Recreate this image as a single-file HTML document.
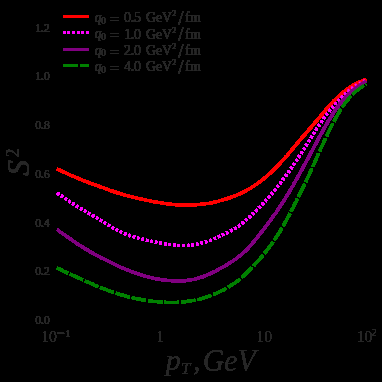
<!DOCTYPE html>
<html><head><meta charset="utf-8"><title>plot</title>
<style>html,body{margin:0;padding:0;background:#000;width:382px;height:382px;overflow:hidden;font-family:"Liberation Serif",serif}</style>
</head><body>
<svg width="382" height="382" viewBox="0 0 382 382" style="position:absolute;left:0;top:0">
<rect width="382" height="382" fill="#000"/>
<defs><filter id="hard" x="0" y="0" width="382" height="382" filterUnits="userSpaceOnUse" color-interpolation-filters="sRGB"><feComponentTransfer><feFuncA type="discrete" tableValues="0 1 1 1 1 1 1 1 1 1 1 1 1 1 1 1 1 1 1 1 1 1 1 1 1 1 1 1 1 1 1 1 1 1 1 1 1 1 1 1 1 1 1 1 1 1 1 1 1 1 1 1 1 1 1 1 1 1 1 1 1 1 1 1"/></feComponentTransfer></filter></defs>
<defs><filter id="hard2" x="0" y="0" width="382" height="382" filterUnits="userSpaceOnUse" color-interpolation-filters="sRGB"><feComponentTransfer><feFuncA type="discrete" tableValues="0 0 0 0 0 0 0 0 1 1 1 1 1 1 1 1 1 1 1 1"/></feComponentTransfer></filter></defs>
<defs><filter id="hard3" x="0" y="0" width="382" height="382" filterUnits="userSpaceOnUse" color-interpolation-filters="sRGB"><feComponentTransfer><feFuncA type="discrete" tableValues="0 0 0 0 1 1 1 1 1 1 1 1 1 1 1 1 1 1 1 1"/></feComponentTransfer></filter></defs>
<g filter="url(#hard)">
<g fill="none" stroke-width="2.8" stroke-linejoin="round">
<path d="M57.2,168.93 L58.8,169.66 L60.3,170.40 L61.9,171.13 L63.4,171.86 L65.0,172.59 L66.5,173.31 L68.1,174.03 L69.6,174.73 L71.2,175.44 L72.7,176.13 L74.3,176.81 L75.8,177.48 L77.4,178.14 L78.9,178.79 L80.5,179.43 L82.0,180.05 L83.6,180.66 L85.1,181.25 L86.7,181.84 L88.2,182.42 L89.8,182.99 L91.3,183.56 L92.9,184.12 L94.4,184.68 L96.0,185.24 L97.5,185.80 L99.1,186.35 L100.6,186.91 L102.2,187.48 L103.8,188.04 L105.3,188.60 L106.9,189.16 L108.4,189.72 L110.0,190.27 L111.5,190.82 L113.1,191.36 L114.6,191.89 L116.2,192.41 L117.7,192.92 L119.3,193.41 L120.8,193.89 L122.4,194.36 L123.9,194.81 L125.5,195.24 L127.0,195.67 L128.6,196.08 L130.1,196.48 L131.7,196.88 L133.2,197.26 L134.8,197.63 L136.3,197.99 L137.9,198.35 L139.4,198.70 L141.0,199.04 L142.5,199.38 L144.1,199.71 L145.7,200.04 L147.2,200.36 L148.8,200.67 L150.3,200.98 L151.9,201.28 L153.4,201.58 L155.0,201.86 L156.5,202.14 L158.1,202.42 L159.6,202.68 L161.2,202.94 L162.7,203.19 L164.3,203.43 L165.8,203.66 L167.4,203.87 L168.9,204.07 L170.5,204.25 L172.0,204.42 L173.6,204.56 L175.1,204.69 L176.7,204.79 L178.2,204.88 L179.8,204.96 L181.3,205.01 L182.9,205.05 L184.4,205.07 L186.0,205.07 L187.5,205.06 L189.1,205.03 L190.7,204.99 L192.2,204.93 L193.8,204.85 L195.3,204.76 L196.9,204.65 L198.4,204.52 L200.0,204.38 L201.5,204.21 L203.1,204.03 L204.6,203.82 L206.2,203.60 L207.7,203.35 L209.3,203.09 L210.8,202.80 L212.4,202.50 L213.9,202.18 L215.5,201.83 L217.0,201.47 L218.6,201.09 L220.1,200.69 L221.7,200.27 L223.2,199.83 L224.8,199.37 L226.3,198.89 L227.9,198.38 L229.4,197.85 L231.0,197.30 L232.5,196.73 L234.1,196.13 L235.7,195.50 L237.2,194.85 L238.8,194.17 L240.3,193.47 L241.9,192.73 L243.4,191.97 L245.0,191.17 L246.5,190.34 L248.1,189.48 L249.6,188.59 L251.2,187.66 L252.7,186.69 L254.3,185.69 L255.8,184.65 L257.4,183.58 L258.9,182.46 L260.5,181.30 L262.0,180.10 L263.6,178.86 L265.1,177.58 L266.7,176.25 L268.2,174.89 L269.8,173.49 L271.3,172.05 L272.9,170.57 L274.4,169.05 L276.0,167.49 L277.5,165.89 L279.1,164.25 L280.7,162.58 L282.2,160.87 L283.8,159.13 L285.3,157.36 L286.9,155.56 L288.4,153.75 L290.0,151.93 L291.5,150.09 L293.1,148.24 L294.6,146.40 L296.2,144.55 L297.7,142.71 L299.3,140.89 L300.8,139.07 L302.4,137.27 L303.9,135.48 L305.5,133.70 L307.0,131.92 L308.6,130.14 L310.1,128.35 L311.7,126.55 L313.2,124.75 L314.8,122.93 L316.3,121.11 L317.9,119.27 L319.4,117.42 L321.0,115.55 L322.6,113.69 L324.1,111.82 L325.7,109.97 L327.2,108.15 L328.8,106.37 L330.3,104.64 L331.9,102.97 L333.4,101.35 L335.0,99.79 L336.5,98.28 L338.1,96.82 L339.6,95.40 L341.2,94.04 L342.7,92.72 L344.3,91.46 L345.8,90.24 L347.4,89.09 L348.9,87.99 L350.5,86.95 L352.0,85.98 L353.6,85.06 L355.1,84.20 L356.7,83.39 L358.2,82.63 L359.8,81.92 L361.3,81.24 L362.9,80.61 L364.4,79.99 L366.0,79.38" stroke="#ff0000"/>
<path d="M57.2,193.23 L58.8,194.27 L60.3,195.32 L61.9,196.36 L63.4,197.41 L65.0,198.44 L66.5,199.48 L68.1,200.50 L69.6,201.52 L71.2,202.54 L72.7,203.54 L74.3,204.54 L75.8,205.52 L77.4,206.49 L78.9,207.45 L80.5,208.40 L82.0,209.33 L83.6,210.26 L85.1,211.17 L86.7,212.08 L88.2,212.98 L89.8,213.88 L91.3,214.78 L92.9,215.68 L94.4,216.58 L96.0,217.50 L97.5,218.41 L99.1,219.34 L100.6,220.29 L102.2,221.24 L103.8,222.20 L105.3,223.16 L106.9,224.13 L108.4,225.08 L110.0,226.03 L111.5,226.96 L113.1,227.87 L114.6,228.76 L116.2,229.62 L117.7,230.45 L119.3,231.24 L120.8,231.99 L122.4,232.70 L123.9,233.36 L125.5,233.99 L127.0,234.59 L128.6,235.15 L130.1,235.69 L131.7,236.20 L133.2,236.68 L134.8,237.14 L136.3,237.59 L137.9,238.01 L139.4,238.42 L141.0,238.82 L142.5,239.21 L144.1,239.60 L145.7,239.97 L147.2,240.33 L148.8,240.68 L150.3,241.02 L151.9,241.35 L153.4,241.67 L155.0,241.99 L156.5,242.29 L158.1,242.59 L159.6,242.88 L161.2,243.16 L162.7,243.43 L164.3,243.69 L165.8,243.94 L167.4,244.18 L168.9,244.40 L170.5,244.60 L172.0,244.78 L173.6,244.95 L175.1,245.09 L176.7,245.21 L178.2,245.30 L179.8,245.37 L181.3,245.41 L182.9,245.43 L184.4,245.41 L186.0,245.36 L187.5,245.28 L189.1,245.17 L190.7,245.03 L192.2,244.85 L193.8,244.63 L195.3,244.39 L196.9,244.10 L198.4,243.78 L200.0,243.42 L201.5,243.02 L203.1,242.58 L204.6,242.11 L206.2,241.61 L207.7,241.08 L209.3,240.52 L210.8,239.93 L212.4,239.32 L213.9,238.69 L215.5,238.05 L217.0,237.38 L218.6,236.71 L220.1,236.02 L221.7,235.32 L223.2,234.60 L224.8,233.87 L226.3,233.12 L227.9,232.34 L229.4,231.54 L231.0,230.70 L232.5,229.82 L234.1,228.91 L235.7,227.95 L237.2,226.94 L238.8,225.88 L240.3,224.77 L241.9,223.59 L243.4,222.37 L245.0,221.09 L246.5,219.76 L248.1,218.39 L249.6,216.97 L251.2,215.52 L252.7,214.04 L254.3,212.52 L255.8,210.98 L257.4,209.41 L258.9,207.82 L260.5,206.21 L262.0,204.59 L263.6,202.94 L265.1,201.27 L266.7,199.57 L268.2,197.84 L269.8,196.08 L271.3,194.27 L272.9,192.43 L274.4,190.55 L276.0,188.63 L277.5,186.68 L279.1,184.70 L280.7,182.69 L282.2,180.65 L283.8,178.58 L285.3,176.48 L286.9,174.35 L288.4,172.20 L290.0,170.02 L291.5,167.81 L293.1,165.57 L294.6,163.31 L296.2,161.01 L297.7,158.68 L299.3,156.31 L300.8,153.90 L302.4,151.47 L303.9,149.00 L305.5,146.53 L307.0,144.04 L308.6,141.56 L310.1,139.09 L311.7,136.64 L313.2,134.21 L314.8,131.80 L316.3,129.42 L317.9,127.07 L319.4,124.74 L321.0,122.45 L322.6,120.19 L324.1,117.97 L325.7,115.80 L327.2,113.67 L328.8,111.60 L330.3,109.58 L331.9,107.63 L333.4,105.73 L335.0,103.90 L336.5,102.12 L338.1,100.40 L339.6,98.73 L341.2,97.11 L342.7,95.55 L344.3,94.05 L345.8,92.61 L347.4,91.24 L348.9,89.94 L350.5,88.73 L352.0,87.59 L353.6,86.52 L355.1,85.52 L356.7,84.58 L358.2,83.70 L359.8,82.87 L361.3,82.08 L362.9,81.33 L364.4,80.59 L366.0,79.87" stroke="#ff00ff" stroke-dasharray="2.1 2.5"/>
<path d="M57.2,229.54 L58.8,230.67 L60.3,231.80 L61.9,232.93 L63.4,234.05 L65.0,235.18 L66.5,236.29 L68.1,237.40 L69.6,238.49 L71.2,239.58 L72.7,240.66 L74.3,241.72 L75.8,242.77 L77.4,243.81 L78.9,244.83 L80.5,245.83 L82.0,246.81 L83.6,247.78 L85.1,248.72 L86.7,249.65 L88.2,250.56 L89.8,251.46 L91.3,252.34 L92.9,253.21 L94.4,254.06 L96.0,254.91 L97.5,255.74 L99.1,256.56 L100.6,257.38 L102.2,258.19 L103.8,258.99 L105.3,259.78 L106.9,260.56 L108.4,261.34 L110.0,262.10 L111.5,262.86 L113.1,263.60 L114.6,264.34 L116.2,265.06 L117.7,265.78 L119.3,266.48 L120.8,267.17 L122.4,267.86 L123.9,268.52 L125.5,269.18 L127.0,269.82 L128.6,270.45 L130.1,271.06 L131.7,271.66 L133.2,272.24 L134.8,272.81 L136.3,273.36 L137.9,273.89 L139.4,274.40 L141.0,274.90 L142.5,275.37 L144.1,275.83 L145.7,276.26 L147.2,276.68 L148.8,277.08 L150.3,277.46 L151.9,277.82 L153.4,278.17 L155.0,278.49 L156.5,278.80 L158.1,279.09 L159.6,279.36 L161.2,279.61 L162.7,279.84 L164.3,280.06 L165.8,280.25 L167.4,280.42 L168.9,280.58 L170.5,280.71 L172.0,280.81 L173.6,280.90 L175.1,280.96 L176.7,280.99 L178.2,281.00 L179.8,280.98 L181.3,280.93 L182.9,280.85 L184.4,280.74 L186.0,280.60 L187.5,280.43 L189.1,280.22 L190.7,279.98 L192.2,279.69 L193.8,279.38 L195.3,279.02 L196.9,278.62 L198.4,278.19 L200.0,277.71 L201.5,277.18 L203.1,276.62 L204.6,276.02 L206.2,275.39 L207.7,274.72 L209.3,274.02 L210.8,273.29 L212.4,272.54 L213.9,271.77 L215.5,270.97 L217.0,270.16 L218.6,269.33 L220.1,268.50 L221.7,267.65 L223.2,266.78 L224.8,265.90 L226.3,265.00 L227.9,264.08 L229.4,263.13 L231.0,262.15 L232.5,261.13 L234.1,260.08 L235.7,258.99 L237.2,257.86 L238.8,256.68 L240.3,255.45 L241.9,254.17 L243.4,252.82 L245.0,251.40 L246.5,249.89 L248.1,248.29 L249.6,246.60 L251.2,244.83 L252.7,243.01 L254.3,241.13 L255.8,239.22 L257.4,237.29 L258.9,235.34 L260.5,233.36 L262.0,231.35 L263.6,229.32 L265.1,227.28 L266.7,225.23 L268.2,223.17 L269.8,221.08 L271.3,218.96 L272.9,216.82 L274.4,214.65 L276.0,212.45 L277.5,210.21 L279.1,207.92 L280.7,205.58 L282.2,203.20 L283.8,200.77 L285.3,198.30 L286.9,195.80 L288.4,193.26 L290.0,190.67 L291.5,188.04 L293.1,185.37 L294.6,182.66 L296.2,179.91 L297.7,177.12 L299.3,174.31 L300.8,171.47 L302.4,168.63 L303.9,165.77 L305.5,162.92 L307.0,160.07 L308.6,157.21 L310.1,154.35 L311.7,151.47 L313.2,148.58 L314.8,145.69 L316.3,142.78 L317.9,139.88 L319.4,136.98 L321.0,134.11 L322.6,131.27 L324.1,128.49 L325.7,125.76 L327.2,123.09 L328.8,120.47 L330.3,117.91 L331.9,115.41 L333.4,112.97 L335.0,110.61 L336.5,108.33 L338.1,106.13 L339.6,104.03 L341.2,102.04 L342.7,100.14 L344.3,98.34 L345.8,96.63 L347.4,95.01 L348.9,93.48 L350.5,92.02 L352.0,90.64 L353.6,89.33 L355.1,88.10 L356.7,86.92 L358.2,85.81 L359.8,84.76 L361.3,83.77 L362.9,82.81 L364.4,81.89 L366.0,80.98" stroke="#800080"/>
<path d="M57.2,268.11 L58.8,268.83 L60.3,269.55 L61.9,270.28 L63.4,271.00 L65.0,271.72 L66.5,272.44 L68.1,273.16 L69.6,273.88 L71.2,274.59 L72.7,275.31 L74.3,276.02 L75.8,276.73 L77.4,277.43 L78.9,278.14 L80.5,278.84 L82.0,279.54 L83.6,280.23 L85.1,280.92 L86.7,281.61 L88.2,282.30 L89.8,282.98 L91.3,283.65 L92.9,284.32 L94.4,284.98 L96.0,285.63 L97.5,286.28 L99.1,286.92 L100.6,287.55 L102.2,288.17 L103.8,288.78 L105.3,289.39 L106.9,289.98 L108.4,290.56 L110.0,291.12 L111.5,291.68 L113.1,292.22 L114.6,292.75 L116.2,293.27 L117.7,293.77 L119.3,294.25 L120.8,294.72 L122.4,295.17 L123.9,295.61 L125.5,296.03 L127.0,296.44 L128.6,296.84 L130.1,297.22 L131.7,297.58 L133.2,297.93 L134.8,298.27 L136.3,298.60 L137.9,298.91 L139.4,299.21 L141.0,299.50 L142.5,299.78 L144.1,300.05 L145.7,300.30 L147.2,300.54 L148.8,300.77 L150.3,300.98 L151.9,301.18 L153.4,301.37 L155.0,301.54 L156.5,301.70 L158.1,301.84 L159.6,301.97 L161.2,302.08 L162.7,302.17 L164.3,302.25 L165.8,302.32 L167.4,302.37 L168.9,302.40 L170.5,302.41 L172.0,302.41 L173.6,302.39 L175.1,302.35 L176.7,302.30 L178.2,302.23 L179.8,302.14 L181.3,302.03 L182.9,301.90 L184.4,301.74 L186.0,301.57 L187.5,301.38 L189.1,301.16 L190.7,300.93 L192.2,300.67 L193.8,300.38 L195.3,300.07 L196.9,299.74 L198.4,299.38 L200.0,299.00 L201.5,298.59 L203.1,298.16 L204.6,297.70 L206.2,297.21 L207.7,296.70 L209.3,296.15 L210.8,295.59 L212.4,294.99 L213.9,294.36 L215.5,293.71 L217.0,293.03 L218.6,292.32 L220.1,291.58 L221.7,290.81 L223.2,290.01 L224.8,289.18 L226.3,288.31 L227.9,287.41 L229.4,286.47 L231.0,285.48 L232.5,284.46 L234.1,283.39 L235.7,282.28 L237.2,281.12 L238.8,279.91 L240.3,278.64 L241.9,277.33 L243.4,275.97 L245.0,274.55 L246.5,273.09 L248.1,271.59 L249.6,270.04 L251.2,268.44 L252.7,266.81 L254.3,265.14 L255.8,263.44 L257.4,261.69 L258.9,259.92 L260.5,258.11 L262.0,256.27 L263.6,254.40 L265.1,252.48 L266.7,250.52 L268.2,248.51 L269.8,246.45 L271.3,244.33 L272.9,242.15 L274.4,239.90 L276.0,237.58 L277.5,235.19 L279.1,232.73 L280.7,230.20 L282.2,227.59 L283.8,224.91 L285.3,222.15 L286.9,219.33 L288.4,216.44 L290.0,213.49 L291.5,210.48 L293.1,207.45 L294.6,204.38 L296.2,201.29 L297.7,198.18 L299.3,195.05 L300.8,191.91 L302.4,188.74 L303.9,185.54 L305.5,182.32 L307.0,179.05 L308.6,175.74 L310.1,172.37 L311.7,168.97 L313.2,165.54 L314.8,162.08 L316.3,158.61 L317.9,155.13 L319.4,151.66 L321.0,148.21 L322.6,144.78 L324.1,141.39 L325.7,138.05 L327.2,134.77 L328.8,131.55 L330.3,128.40 L331.9,125.33 L333.4,122.34 L335.0,119.44 L336.5,116.64 L338.1,113.94 L339.6,111.35 L341.2,108.87 L342.7,106.51 L344.3,104.26 L345.8,102.13 L347.4,100.13 L348.9,98.25 L350.5,96.49 L352.0,94.85 L353.6,93.32 L355.1,91.90 L356.7,90.57 L358.2,89.32 L359.8,88.14 L361.3,87.03 L362.9,85.97 L364.4,84.94 L366.0,83.93" stroke="#008000" stroke-dasharray="14.2 2.4" stroke-dashoffset="2.6"/>
</g><g shape-rendering="crispEdges">
<rect x="63" y="15" width="26" height="3" fill="#ff0000"/>
<rect x="63" y="31" width="3" height="3" fill="#ff00ff"/>
<rect x="67" y="31" width="3" height="3" fill="#ff00ff"/>
<rect x="72" y="31" width="3" height="3" fill="#ff00ff"/>
<rect x="77" y="31" width="3" height="3" fill="#ff00ff"/>
<rect x="81" y="31" width="3" height="3" fill="#ff00ff"/>
<rect x="86" y="31" width="3" height="3" fill="#ff00ff"/>
<rect x="63" y="48" width="26" height="3" fill="#800080"/>
<rect x="63" y="64" width="15" height="3" fill="#008000"/><rect x="80" y="64" width="9" height="3" fill="#008000"/>
</g>
<g fill="#262626" font-family="Liberation Serif, serif">
<text x="49.8" y="31.5" font-size="11.6" text-anchor="end">1.2</text>
<text x="49.8" y="80.2" font-size="11.6" text-anchor="end">1.0</text>
<text x="49.8" y="129.0" font-size="11.6" text-anchor="end">0.8</text>
<text x="49.8" y="177.7" font-size="11.6" text-anchor="end">0.6</text>
<text x="49.8" y="226.5" font-size="11.6" text-anchor="end">0.4</text>
<text x="49.8" y="275.2" font-size="11.6" text-anchor="end">0.2</text>
<text x="49.8" y="324.3" font-size="11.6" text-anchor="end">0.0</text>
<g filter="url(#hard3)">
<text x="41.2" y="342.4" font-size="15.8">10</text><rect x="56.8" y="332.6" width="7.6" height="0.9"/><text x="65.2" y="336.6" font-size="11">1</text>
<text x="160.2" y="342.4" font-size="15.8" text-anchor="middle">1</text>
<text x="264.2" y="342.4" font-size="15.8" text-anchor="middle">10</text>
<text x="356.6" y="342.4" font-size="15.8">10</text><text x="371.6" y="336.2" font-size="10">2</text>
</g>
<text x="94.6" y="22.1" font-size="14" font-style="italic">q</text>
<text x="101" y="23.7" font-size="9.6">0</text>
<text x="109.2" y="25.0" font-size="16" textLength="10.6" lengthAdjust="spacingAndGlyphs">=</text>
<text x="124" y="22.4" font-size="14" textLength="17" lengthAdjust="spacing">0.5</text>
<text x="146" y="22.4" font-size="14" textLength="26" lengthAdjust="spacingAndGlyphs">GeV</text>
<text x="172" y="16.4" font-size="8.6">2</text>
<text x="178.2" y="25.0" font-size="21.5" transform="translate(178.2 0) scale(0.9 1) translate(-178.2 0)">/</text>
<text x="185.3" y="22.4" font-size="14">fm</text>
<text x="94.6" y="38.4" font-size="14" font-style="italic">q</text>
<text x="101" y="40.0" font-size="9.6">0</text>
<text x="109.2" y="41.3" font-size="16" textLength="10.6" lengthAdjust="spacingAndGlyphs">=</text>
<text x="124" y="38.7" font-size="14" textLength="17" lengthAdjust="spacing">1.0</text>
<text x="146" y="38.7" font-size="14" textLength="26" lengthAdjust="spacingAndGlyphs">GeV</text>
<text x="172" y="32.7" font-size="8.6">2</text>
<text x="178.2" y="41.3" font-size="21.5" transform="translate(178.2 0) scale(0.9 1) translate(-178.2 0)">/</text>
<text x="185.3" y="38.7" font-size="14">fm</text>
<text x="94.6" y="54.7" font-size="14" font-style="italic">q</text>
<text x="101" y="56.3" font-size="9.6">0</text>
<text x="109.2" y="57.6" font-size="16" textLength="10.6" lengthAdjust="spacingAndGlyphs">=</text>
<text x="124" y="55.0" font-size="14" textLength="17" lengthAdjust="spacing">2.0</text>
<text x="146" y="55.0" font-size="14" textLength="26" lengthAdjust="spacingAndGlyphs">GeV</text>
<text x="172" y="49.0" font-size="8.6">2</text>
<text x="178.2" y="57.6" font-size="21.5" transform="translate(178.2 0) scale(0.9 1) translate(-178.2 0)">/</text>
<text x="185.3" y="55.0" font-size="14">fm</text>
<text x="94.6" y="71.0" font-size="14" font-style="italic">q</text>
<text x="101" y="72.6" font-size="9.6">0</text>
<text x="109.2" y="73.9" font-size="16" textLength="10.6" lengthAdjust="spacingAndGlyphs">=</text>
<text x="124" y="71.3" font-size="14" textLength="17" lengthAdjust="spacing">4.0</text>
<text x="146" y="71.3" font-size="14" textLength="26" lengthAdjust="spacingAndGlyphs">GeV</text>
<text x="172" y="65.3" font-size="8.6">2</text>
<text x="178.2" y="73.9" font-size="21.5" transform="translate(178.2 0) scale(0.9 1) translate(-178.2 0)">/</text>
<text x="185.3" y="71.3" font-size="14">fm</text>
</g>
</g>
<g filter="url(#hard3)" fill="#262626" font-family="Liberation Serif, serif">
<text x="165.8" y="370.3" font-size="30" font-style="italic">p</text>
<text x="181" y="373.6" font-size="17" font-style="italic">T</text>
<text x="193" y="370.3" font-size="30" font-style="italic">,</text>
<text x="202.8" y="370.8" font-size="31" font-style="italic" textLength="53" lengthAdjust="spacingAndGlyphs">GeV</text>
<g filter="url(#hard)"><g transform="translate(28.8,175.8) rotate(-90)"><text x="0" y="0" font-size="31.5" font-style="italic">S</text><text x="18.6" y="-10" font-size="19.5" textLength="8.6" lengthAdjust="spacingAndGlyphs">2</text></g></g>
</g>
</svg>
</body></html>
